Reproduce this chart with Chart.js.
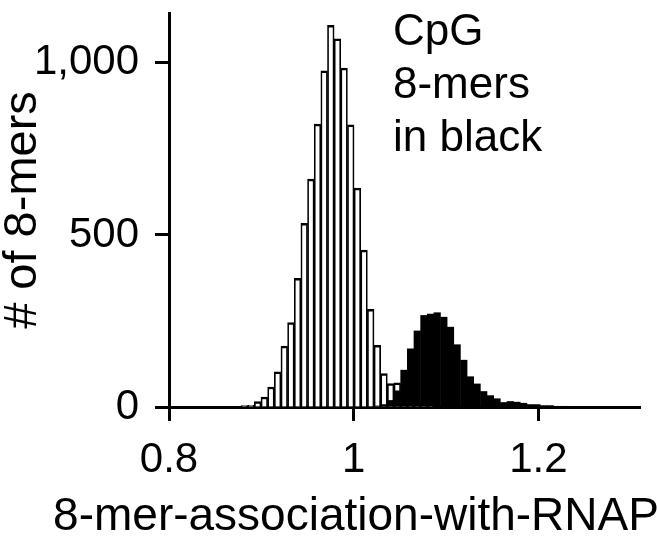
<!DOCTYPE html>
<html>
<head>
<meta charset="utf-8">
<script src="https://cdn.jsdelivr.net/npm/chart.js@4"></script>
<style>
    html, body { margin: 0; padding: 0; background: #fff; }
    #wrap { width: 657px; height: 539px; }
</style>
</head>
<body>
<div id="wrap"><canvas id="histChart" width="657" height="539"></canvas></div>
<script>
// Histogram bins (association value)
const binStart = 0.878;
const binWidth = 0.0072;

// Counts per bin: all other 8-mers (white) and CpG 8-mers (black)
const otherCounts = [4, 5, 16, 29, 58, 102, 177, 245, 374, 534, 662, 822, 977, 1109, 1070,
    985, 820, 636, 456, 284, 179, 97, 68, 70, 45, 25, 12, 6, 3,
    0, 0, 0, 0, 0, 0, 0, 0, 0, 0, 0, 0, 0, 0, 0, 0, 0, 0, 0, 0, 0, 0, 0, 0, 0];
const cpgCounts = [0, 0, 0, 0, 0, 0, 0, 0, 0, 0, 0, 0, 0, 0, 0, 0, 0, 0, 0,
    2, 4, 8, 20, 48, 108, 170, 222, 267, 271, 275, 262, 233, 182, 137, 89, 68, 46,
    34, 25, 14, 17, 15, 12, 8, 8, 5, 5, 3, 3, 2, 2, 1, 1, 1];

// Axes
const xTicks = [0.8, 1, 1.2];
const yTicks = [0, 500, 1000];
const xMin = 0.8, xMax = 1.31;
const yMax = 1145;

const xTitle = '8-mer-association-with-RNAP';
const yTitle = '# of 8-mers';
const noteLines = ['CpG', '8-mers', 'in black'];

const FONT = "'Liberation Sans', Arial, sans-serif";

function toPoints(counts) {
    return counts.map((c, i) => ({ x: binStart + binWidth * (i + 0.5), y: c }));
}

// Texto libre: nota y título del eje x
const textPlugin = {
    id: 'textNotes',
    afterDraw(chart) {
        const ctx = chart.ctx;
        const area = chart.chartArea;
        ctx.save();
        ctx.fillStyle = '#000';
        ctx.textBaseline = 'alphabetic';
        ctx.font = '44px ' + FONT;
        ctx.textAlign = 'left';
        noteLines.forEach((line, i) => {
            ctx.fillText(line, area.left + 224, 45 + i * 53);
        });
        ctx.font = '46px ' + FONT;
        ctx.textAlign = 'center';
        ctx.fillText(xTitle, 356, 530);
        ctx.restore();
    }
};

const ctx = document.getElementById('histChart');
new Chart(ctx, {
    type: 'bar',
    data: {
        datasets: [
            {
                label: 'CpG 8-mers',
                data: toPoints(cpgCounts),
                backgroundColor: '#000',
                borderWidth: 0,
                barPercentage: 1.08,
                categoryPercentage: 1,
                grouped: false,
                order: 0
            },
            {
                label: 'Other 8-mers',
                data: toPoints(otherCounts),
                backgroundColor: '#fff',
                borderColor: '#000',
                borderWidth: { top: 2.5, left: 1.7, right: 1.7, bottom: 0 },
                barPercentage: 1,
                categoryPercentage: 1,
                grouped: false,
                order: 1
            }
        ]
    },
    options: {
        responsive: false,
        animation: false,
        devicePixelRatio: 1,
        layout: {
            padding: { left: 0, top: 13, right: 17, bottom: 0 }
        },
        plugins: {
            legend: { display: false },
            tooltip: { enabled: false }
        },
        scales: {
            x: {
                type: 'linear',
                min: xMin,
                max: xMax,
                offset: false,
                grid: {
                    offset: false,
                    drawOnChartArea: false,
                    drawTicks: true,
                    tickLength: 14,
                    tickWidth: 3,
                    tickColor: '#000',
                    color: '#000'
                },
                border: { display: true, color: '#000', width: 3 },
                ticks: {
                    color: '#000',
                    font: { family: FONT, size: 42 },
                    padding: 14,
                    maxRotation: 0,
                    autoSkip: false,
                    callback: value => String(value)
                },
                afterBuildTicks: scale => {
                    scale.ticks = xTicks.map(v => ({ value: v }));
                },
                afterFit: scale => {
                    scale.height = 132;
                    scale.paddingLeft = 0;
                    scale.paddingRight = 0;
                }
            },
            y: {
                min: 0,
                max: yMax,
                grid: {
                    drawOnChartArea: false,
                    drawTicks: true,
                    tickLength: 14,
                    tickWidth: 3,
                    tickColor: '#000',
                    color: '#000'
                },
                border: { display: true, color: '#000', width: 3 },
                ticks: {
                    color: '#000',
                    font: { family: FONT, size: 42 },
                    padding: 16,
                    callback: value => value.toLocaleString('en-US')
                },
                afterBuildTicks: scale => {
                    scale.ticks = yTicks.map(v => ({ value: v }));
                },
                title: {
                    display: true,
                    text: yTitle,
                    color: '#000',
                    font: { family: FONT, size: 47, lineHeight: 1 },
                    padding: 0
                },
                afterFit: scale => {
                    scale.width = 169;
                    scale.paddingTop = 0;
                    scale.paddingBottom = 0;
                }
            }
        }
    },
    plugins: [textPlugin]
});
</script>
</body>
</html>
